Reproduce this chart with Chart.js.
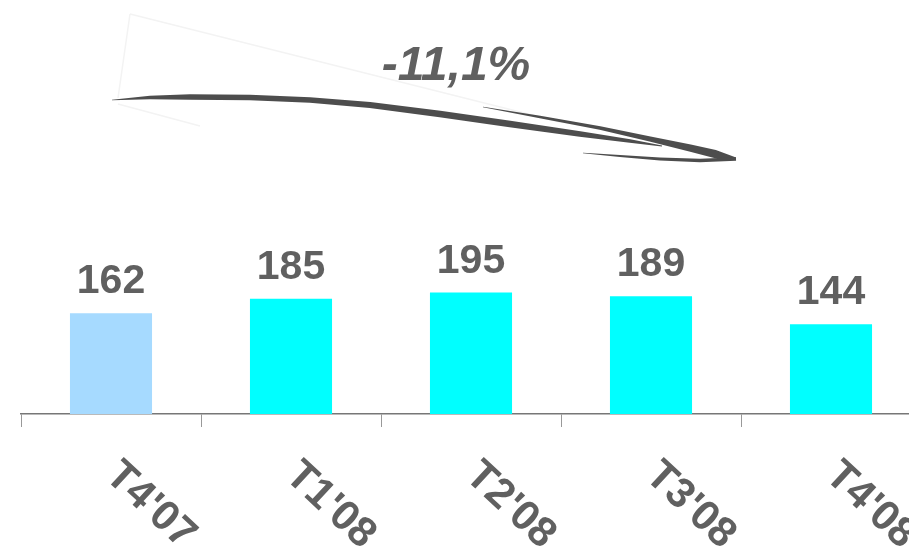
<!DOCTYPE html>
<html lang="es">
<head>
<meta charset="utf-8">
<title>Evolución trimestral</title>
<script src="https://cdn.jsdelivr.net/npm/chart.js@4"></script>
<style>
    body { margin: 0; background: #fff; overflow: hidden; }
    #contenedor { width: 921px; height: 552px; }
</style>
</head>
<body>
<div id="contenedor"><canvas id="graficaTrimestres"></canvas></div>
<script>
// === Datos ===
const categorias = ["T4'07", "T1'08", "T2'08", "T3'08", "T4'08"];
const valores = [162, 185, 195, 189, 144];
const colores = ['#a6daff', '#00ffff', '#00ffff', '#00ffff', '#00ffff'];
const variacion = '-11,1%';

const grisTexto = '#606060';

// trazo con grosor variable a lo largo de una polilínea
function trazo(ctx, pts, anchos) {
    const izq = [], der = [];
    for (let i = 0; i < pts.length; i++) {
        const a = pts[Math.max(i - 1, 0)], b = pts[Math.min(i + 1, pts.length - 1)];
        const dx = b[0] - a[0], dy = b[1] - a[1], l = Math.hypot(dx, dy);
        const nx = -dy / l, ny = dx / l, w = anchos[i] / 2;
        izq.push([pts[i][0] + nx * w, pts[i][1] + ny * w]);
        der.push([pts[i][0] - nx * w, pts[i][1] - ny * w]);
    }
    ctx.beginPath();
    ctx.moveTo(izq[0][0], izq[0][1]);
    izq.forEach(p => ctx.lineTo(p[0], p[1]));
    der.reverse().forEach(p => ctx.lineTo(p[0], p[1]));
    ctx.closePath();
    ctx.fill();
}

// === Flecha y porcentaje ===
const pluginFlecha = {
    id: 'flecha',
    afterDraw(chart) {
        const ctx = chart.ctx;
        ctx.save();
        // bocetos tenues
        ctx.strokeStyle = '#f3f3f3';
        ctx.lineWidth = 1.5;
        ctx.beginPath();
        ctx.moveTo(130, 14); ctx.lineTo(118, 98);
        ctx.moveTo(130, 14); ctx.lineTo(560, 122);
        ctx.moveTo(118, 104); ctx.lineTo(200, 126);
        ctx.stroke();

        ctx.fillStyle = '#4d4d4d';
        trazo(ctx,
            [[112, 100], [150, 97.5], [190, 97], [250, 97.5], [310, 100], [370, 105], [440, 114], [510, 124], [580, 134], [630, 141], [662, 146]],
            [0.5, 3.5, 5.5, 5.5, 5.5, 6, 6.5, 6.5, 5.5, 3.5, 0.8]);
        trazo(ctx,
            [[483, 107], [540, 117], [600, 128], [650, 139], [690, 148], [715, 154], [736, 158]],
            [0.5, 2.5, 3.5, 5, 7, 8, 0.8]);
        trazo(ctx,
            [[736, 159], [700, 160.5], [660, 159], [620, 156], [583, 153]],
            [3.5, 3.5, 3, 1.8, 0.3]);

        ctx.fillStyle = grisTexto;
        ctx.font = 'italic bold 48px "Liberation Sans", Arial, sans-serif';
        ctx.textAlign = 'center';
        ctx.textBaseline = 'alphabetic';
        ctx.fillText(variacion, 456, 80);
        ctx.restore();
    }
};

// === Etiquetas de valores y categorías ===
const pluginEtiquetas = {
    id: 'etiquetas',
    afterDatasetsDraw(chart) {
        const ctx = chart.ctx;
        const meta = chart.getDatasetMeta(0);
        const escalaX = chart.scales.x;
        ctx.save();
        ctx.fillStyle = grisTexto;
        ctx.font = 'bold 41px "Liberation Sans", Arial, sans-serif';
        ctx.textAlign = 'center';
        ctx.textBaseline = 'alphabetic';
        meta.data.forEach((barra, i) => {
            ctx.fillText(String(valores[i]), barra.x, barra.y - 20);
        });

        ctx.font = 'bold 42px "Liberation Sans", Arial, sans-serif';
        ctx.textAlign = 'left';
        ctx.textBaseline = 'top';
        categorias.forEach((c, i) => {
            const x = escalaX.getPixelForValue(i) + 15;
            const y = chart.chartArea.bottom + 40;
            ctx.save();
            ctx.translate(x, y);
            ctx.rotate(43 * Math.PI / 180);
            ctx.fillText(c, 0, 0);
            ctx.restore();
        });
        ctx.restore();
    }
};

const ctxTrimestres = document.getElementById('graficaTrimestres').getContext('2d');

new Chart(ctxTrimestres, {
    type: 'bar',
    data: {
        labels: categorias,
        datasets: [{
            data: valores,
            backgroundColor: colores,
            barPercentage: 0.456,
            categoryPercentage: 1
        }]
    },
    options: {
        responsive: true,
        maintainAspectRatio: false,
        animation: false,
        layout: {
            padding: { left: 21, right: 0, top: 0, bottom: 125 }
        },
        plugins: {
            legend: { display: false },
            tooltip: { enabled: false }
        },
        scales: {
            y: {
                display: false,
                min: 0,
                max: 665
            },
            x: {
                offset: true,
                ticks: { display: false },
                grid: {
                    offset: true,
                    drawOnChartArea: false,
                    drawTicks: true,
                    tickLength: 13,
                    color: '#999999'
                },
                border: {
                    color: '#777777',
                    width: 1.5
                }
            }
        }
    },
    plugins: [pluginFlecha, pluginEtiquetas]
});
</script>
</body>
</html>
